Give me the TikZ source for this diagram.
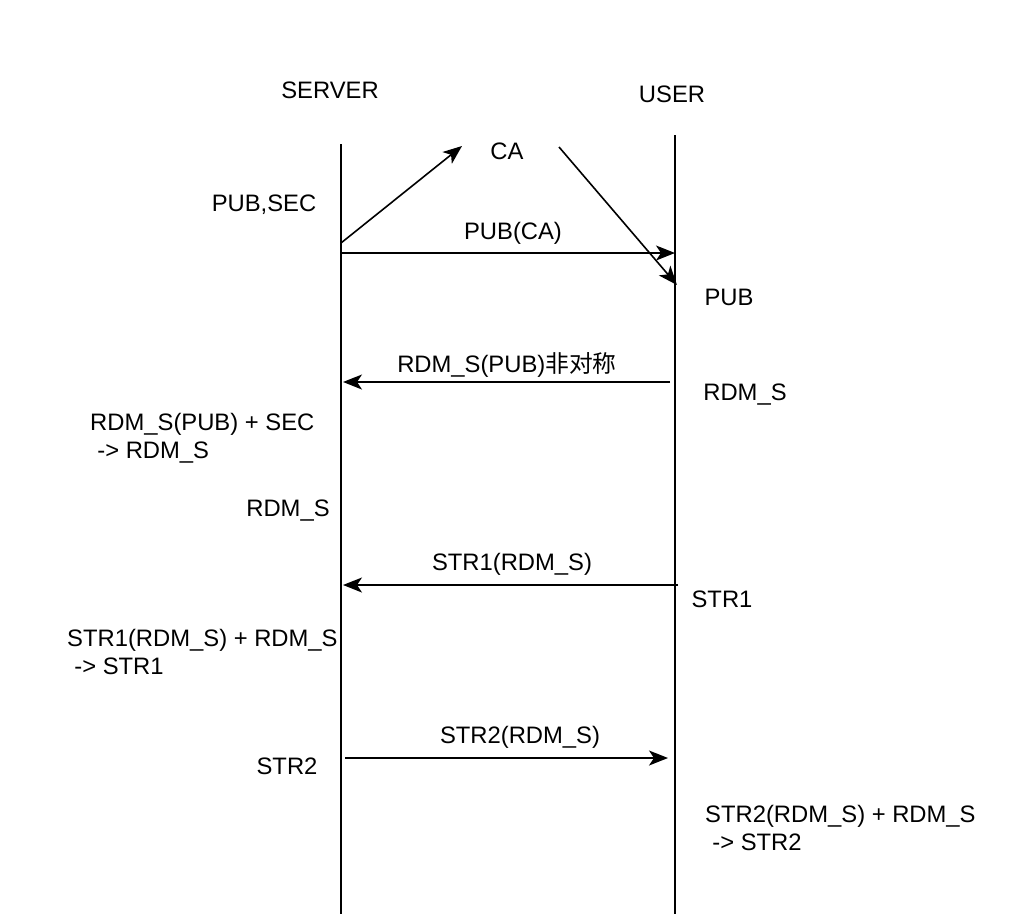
\documentclass[tikz,border=0pt]{standalone}
\usepackage{fontspec}
\setmainfont{Liberation Sans}
\newfontfamily\cjk{Noto Sans CJK SC}
\usetikzlibrary{arrows.meta}
\begin{document}
\begin{tikzpicture}[x=1pt,y=-1pt,
  lbl/.style={inner sep=0pt,font=\fontsize{23.8}{28}\selectfont},
  mlbl/.style={lbl,anchor=west,align=left},
  life/.style={line width=1.6pt},
  msg/.style={line width=1.6pt,-{Stealth[length=19pt,width=15pt,inset=5pt]}}]
\useasboundingbox (0,0) rectangle (1036,914);
% lifelines
\coordinate (st) at (341,144);
\coordinate (sb) at (341,914);
\coordinate (ut) at (675,135);
\coordinate (ub) at (675,914);
\draw[life] (st) -- (sb);
\draw[life] (ut) -- (ub);
% headers
\node[lbl] (server) at (330,90) {SERVER};
\node[lbl] (user) at (672,94) {USER};
\node[lbl] (ca) at (507,151) {CA};
% CA arrows
\coordinate (ca1s) at (341,243);
\coordinate (ca1e) at (462,146);
\coordinate (ca2s) at (559,147);
\coordinate (ca2e) at (677,285);
\draw[msg] (ca1s) -- (ca1e);
\draw[msg] (ca2s) -- (ca2e);
\node[lbl] (pubsec) at (264,205) {PUB,SEC};
% PUB(CA)
\coordinate (m1s) at (341,253);
\coordinate (m1e) at (675,253);
\draw[msg] (m1s) -- (m1e);
\node[lbl] (m1l) at (513,233) {PUB(CA)};
\node[lbl] (pub) at (729,297) {PUB};
% RDM_S(PUB)
\coordinate (m2s) at (670,382);
\coordinate (m2e) at (343,382);
\draw[msg] (m2s) -- (m2e);
\node[lbl] (m2l) at (507,365) {RDM\_S(PUB){\cjk 非对称}};
\node[lbl] (rdmu) at (745,395) {RDM\_S};
\node[mlbl] (dec1) at (90,438) {RDM\_S(PUB) + SEC\\\hspace*{0.3em}-> RDM\_S};
\node[lbl] (rdms) at (288,511) {RDM\_S};
% STR1
\coordinate (m3s) at (678,585);
\coordinate (m3e) at (343,585);
\draw[msg] (m3s) -- (m3e);
\node[lbl] (m3l) at (512,564) {STR1(RDM\_S)};
\node[lbl] (str1u) at (722,599) {STR1};
\node[mlbl] (dec2) at (67,652) {STR1(RDM\_S) + RDM\_S\\\hspace*{0.3em}-> STR1};
% STR2
\coordinate (m4s) at (345,758);
\coordinate (m4e) at (668,758);
\draw[msg] (m4s) -- (m4e);
\node[lbl] (m4l) at (520,737) {STR2(RDM\_S)};
\node[lbl] (str2s) at (287,766) {STR2};
\node[mlbl] (dec3) at (705,828) {STR2(RDM\_S) + RDM\_S\\\hspace*{0.3em}-> STR2};
\end{tikzpicture}
\end{document}
